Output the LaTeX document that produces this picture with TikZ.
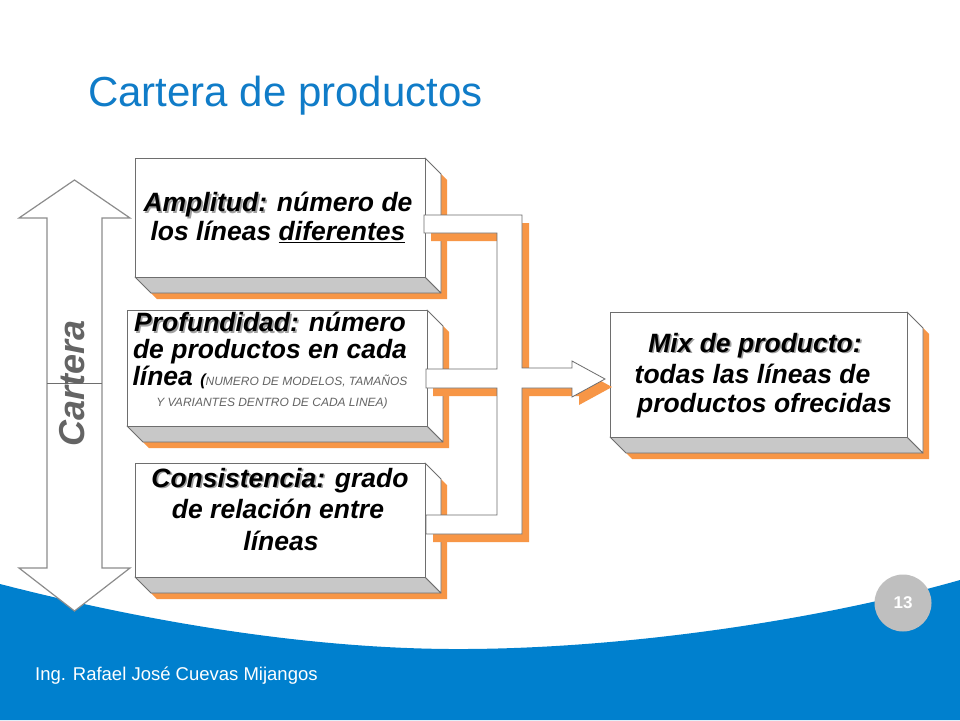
\documentclass[tikz,border=0pt]{standalone}
\usepackage{fontspec}
\setmainfont{Liberation Sans}
\definecolor{azul}{RGB}{0,128,206}
\definecolor{titulo}{RGB}{16,124,200}
\definecolor{naranja}{RGB}{247,150,70}
\definecolor{cara}{RGB}{200,200,200}
\definecolor{borde}{RGB}{110,110,110}
\definecolor{flecha}{RGB}{140,140,140}
\definecolor{gristexto}{RGB}{100,100,100}
\definecolor{sombragris}{RGB}{160,160,160}
\definecolor{circulo}{RGB}{191,191,191}

\newcommand\sombra[1]{\leavevmode\rlap{\kern1.6pt\raisebox{-1.6pt}{\color{sombragris}#1}}#1}

\tikzset{
  frente/.style={draw=borde, fill=white, line width=0.8pt, inner sep=0pt, outer sep=0pt},
  linea/.style={anchor=base, inner sep=0pt, font=\fontsize{26.5}{29}\selectfont\bfseries\itshape},
  nota/.style={anchor=base, inner sep=0pt, text=gristexto, font=\fontsize{12}{14}\selectfont\itshape},
  contorno/.style={fill=white, draw=borde, line width=0.8pt, line join=miter},
}

\newcommand\caja[5]{%
  \fill[naranja] (#2+6,#3+6) -- (#4+6,#3+6) -- (#4+22,#3+22) -- (#4+22,#5+22) -- (#2+22,#5+22) -- (#2+6,#5+6) -- cycle;
  \filldraw[fill=cara,draw=borde,line width=0.8pt,line join=round] (#2,#5) -- (#4,#5) -- (#4+16,#5+16) -- (#2+16,#5+16) -- cycle;
  \filldraw[fill=white,draw=borde,line width=0.8pt,line join=round] (#4,#3) -- (#4+16,#3+16) -- (#4+16,#5+16) -- (#4,#5) -- cycle;
  \node[frente,minimum width=#4pt-#2pt,minimum height=#5pt-#3pt] (#1) at ({(#2+#4)/2},{(#3+#5)/2}) {};
}

\newcommand\conector[1]{%
  \path[#1] (424,215) -- (522,215) -- (522,368) -- (572,368) -- (572,361) -- (605,379) -- (572,397) -- (572,388) -- (522,388) -- (522,534) -- (426,534) -- (426,515) -- (497,515) -- (497,388) -- (426,388) -- (426,369) -- (497,369) -- (497,233) -- (424,233) -- cycle;
}

\begin{document}
\begin{tikzpicture}[x=1pt,y=-1pt]
\useasboundingbox (0,0) rectangle (960,720);
\fill[white] (0,0) rectangle (960,720);

% blue footer band
\fill[azul] (0,584) .. controls (140,620) and (300,648) .. (450,649) .. controls (620,650) and (820,620) .. (960,580) -- (960,720) -- (0,720) -- cycle;

% title and footer
\node[anchor=base west, inner sep=0pt, text=titulo, font=\fontsize{42}{42}\selectfont] (titulo) at (88,106.5) {Cartera de productos};
\node[anchor=base west, inner sep=0pt, text=white, font=\fontsize{18.5}{18.5}\selectfont] (autor) at (35,680) {Ing. Rafael José Cuevas Mijangos};
\node[circle, fill=circulo, minimum size=57pt, inner sep=0pt, text=white, font=\fontsize{17}{17}\selectfont\bfseries] (pag) at (903,603) {13};

% double arrow "Cartera"
\filldraw[fill=white, draw=flecha, line width=1.2pt, line join=miter] (74.5,180) -- (130,218) -- (102,218) -- (102,568) -- (130,568) -- (74.5,611) -- (19,568) -- (47,568) -- (47,218) -- (19,218) -- cycle;
\draw[draw=borde, line width=1pt] (47,383) -- (102,383);
\node[rotate=90, inner sep=0pt, text=gristexto, font=\fontsize{36}{36}\selectfont\bfseries\itshape] (cartera) at (72,383.5) {Cartera};

% 3D boxes
\caja{b1}{135}{158}{425}{277}
\caja{b2}{127}{310}{427}{426}
\caja{b3}{135}{463}{425}{577}
\caja{b4}{610}{312}{907}{437}

% merging block arrow
\conector{fill=naranja, shift={(7,8)}}
\conector{contorno}

% texts
\node[linea] (a1) at (278,211.5) {\sombra{Amplitud:} número de};
\node[linea] (a2) at (278,240.5) {los líneas \underline{diferentes}};

\node[linea] (p1) at (270,331.5) {\sombra{Profundidad:} número};
\node[linea] (p2) at (270,358) {de productos en cada};
\node[linea] (p3) at (270,385.5) {línea {\fontsize{16}{16}\selectfont(}{\fontsize{12}{14}\selectfont\mdseries\color{gristexto}NUMERO DE MODELOS, TAMAÑOS}};
\node[nota] (p4) at (272,406) {Y VARIANTES DENTRO DE CADA LINEA)};

\node[linea] (c1) at (280,487) {\sombra{Consistencia:} grado};
\node[linea] (c2) at (278,518) {de relación entre};
\node[linea] (c3) at (281,550) {líneas};

\node[linea] (m1) at (755,352) {\sombra{Mix de producto:}};
\node[linea] (m2) at (752.5,383) {todas las líneas de};
\node[linea] (m3) at (764.5,412) {productos ofrecidas};
\end{tikzpicture}
\end{document}
